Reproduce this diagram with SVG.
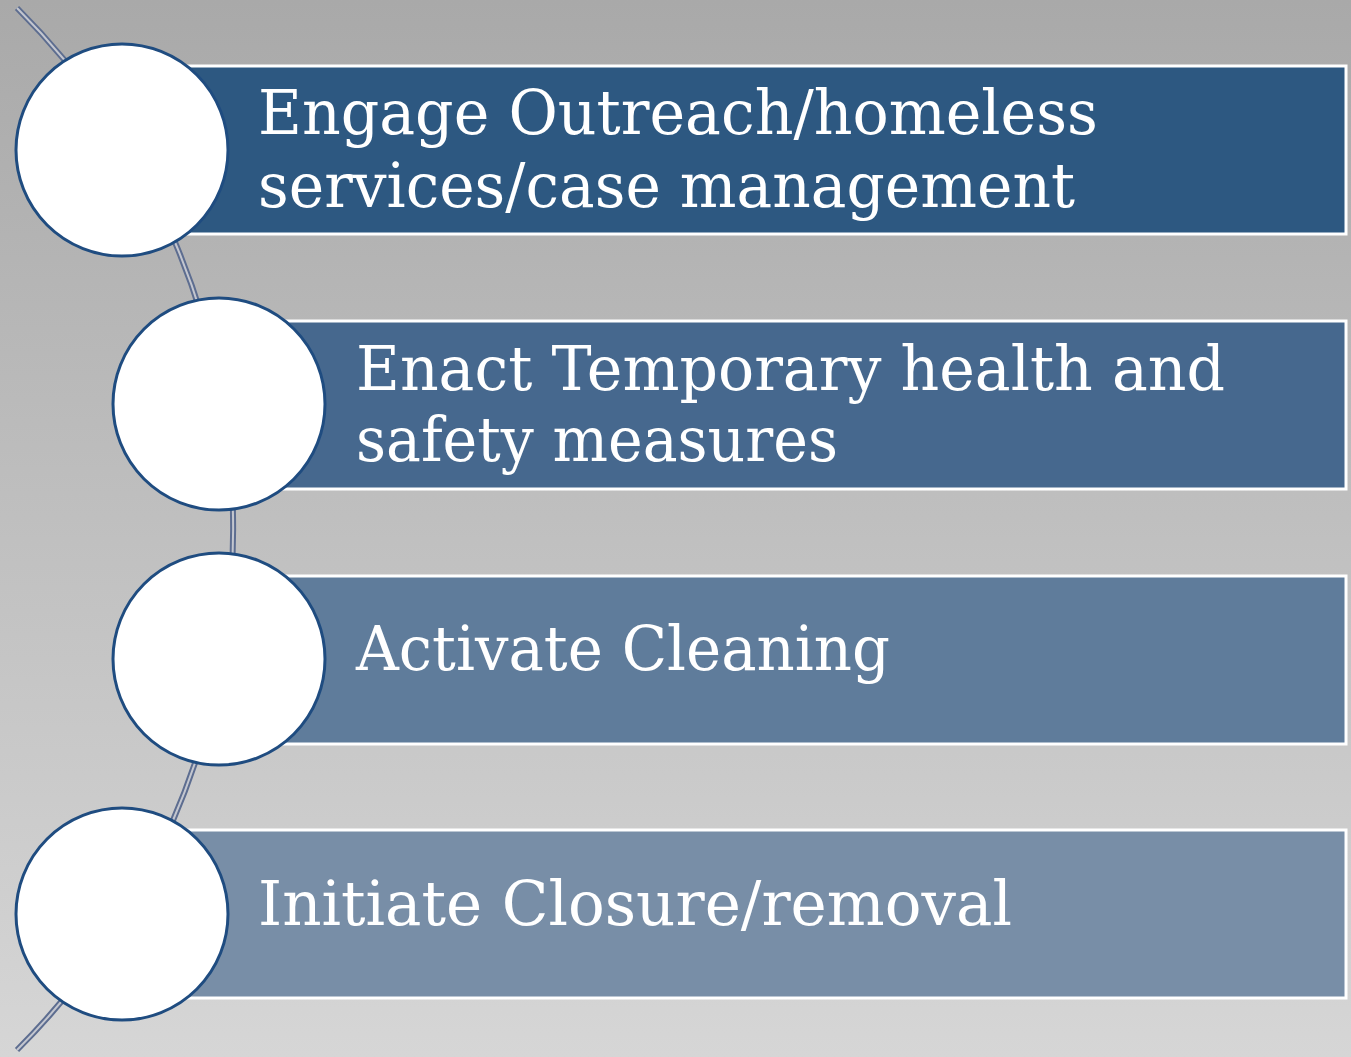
<svg xmlns="http://www.w3.org/2000/svg" width="1351" height="1057" viewBox="0 0 1351 1057">
  <defs>
    <linearGradient id="bg" x1="0" y1="0" x2="0" y2="1">
      <stop offset="0" stop-color="#a9a9a9"/>
      <stop offset="1" stop-color="#d6d6d6"/>
    </linearGradient>
  </defs>
  <style>
    .bar { stroke: #ffffff; stroke-width: 3; }
    .dot { fill: #ffffff; stroke: #1f4c80; stroke-width: 3; }
    .lbl { font-family: "DejaVu Serif", "Liberation Serif", serif; font-size: 62px; fill: #ffffff; }
    .arc-out { fill: none; stroke: #5d6d90; stroke-width: 6; }
    .arc-in { fill: none; stroke: #c3c6cf; stroke-width: 2; }
  </style>
  <rect x="0" y="0" width="1351" height="1057" fill="url(#bg)"/>

  <g id="connectors">
    <path class="arc-out" d="M 17 8 A 736 736 0 0 1 17 1050"/>
    <path class="arc-in" d="M 17 8 A 736 736 0 0 1 17 1050"/>
  </g>

  <g id="step1">
    <rect class="bar" x="122" y="66" width="1224" height="168" fill="#2d5881"/>
    <circle class="dot" cx="122" cy="150" r="106"/>
    <text class="lbl" x="258" y="134" textLength="840" lengthAdjust="spacingAndGlyphs">Engage Outreach/homeless</text>
    <text class="lbl" x="258" y="207" textLength="817" lengthAdjust="spacingAndGlyphs">services/case management</text>
  </g>

  <g id="step2">
    <rect class="bar" x="219" y="321" width="1127" height="168" fill="#46688e"/>
    <circle class="dot" cx="219" cy="404" r="106"/>
    <text class="lbl" x="356" y="390" textLength="869" lengthAdjust="spacingAndGlyphs">Enact Temporary health and</text>
    <text class="lbl" x="356" y="461" textLength="482" lengthAdjust="spacingAndGlyphs">safety measures</text>
  </g>

  <g id="step3">
    <rect class="bar" x="219" y="576" width="1127" height="168" fill="#5f7c9b"/>
    <circle class="dot" cx="219" cy="659" r="106"/>
    <text class="lbl" x="356" y="670" textLength="534" lengthAdjust="spacingAndGlyphs">Activate Cleaning</text>
  </g>

  <g id="step4">
    <rect class="bar" x="122" y="830" width="1224" height="168" fill="#788ea7"/>
    <circle class="dot" cx="122" cy="914" r="106"/>
    <text class="lbl" x="258" y="925" textLength="754" lengthAdjust="spacingAndGlyphs">Initiate Closure/removal</text>
  </g>
</svg>
